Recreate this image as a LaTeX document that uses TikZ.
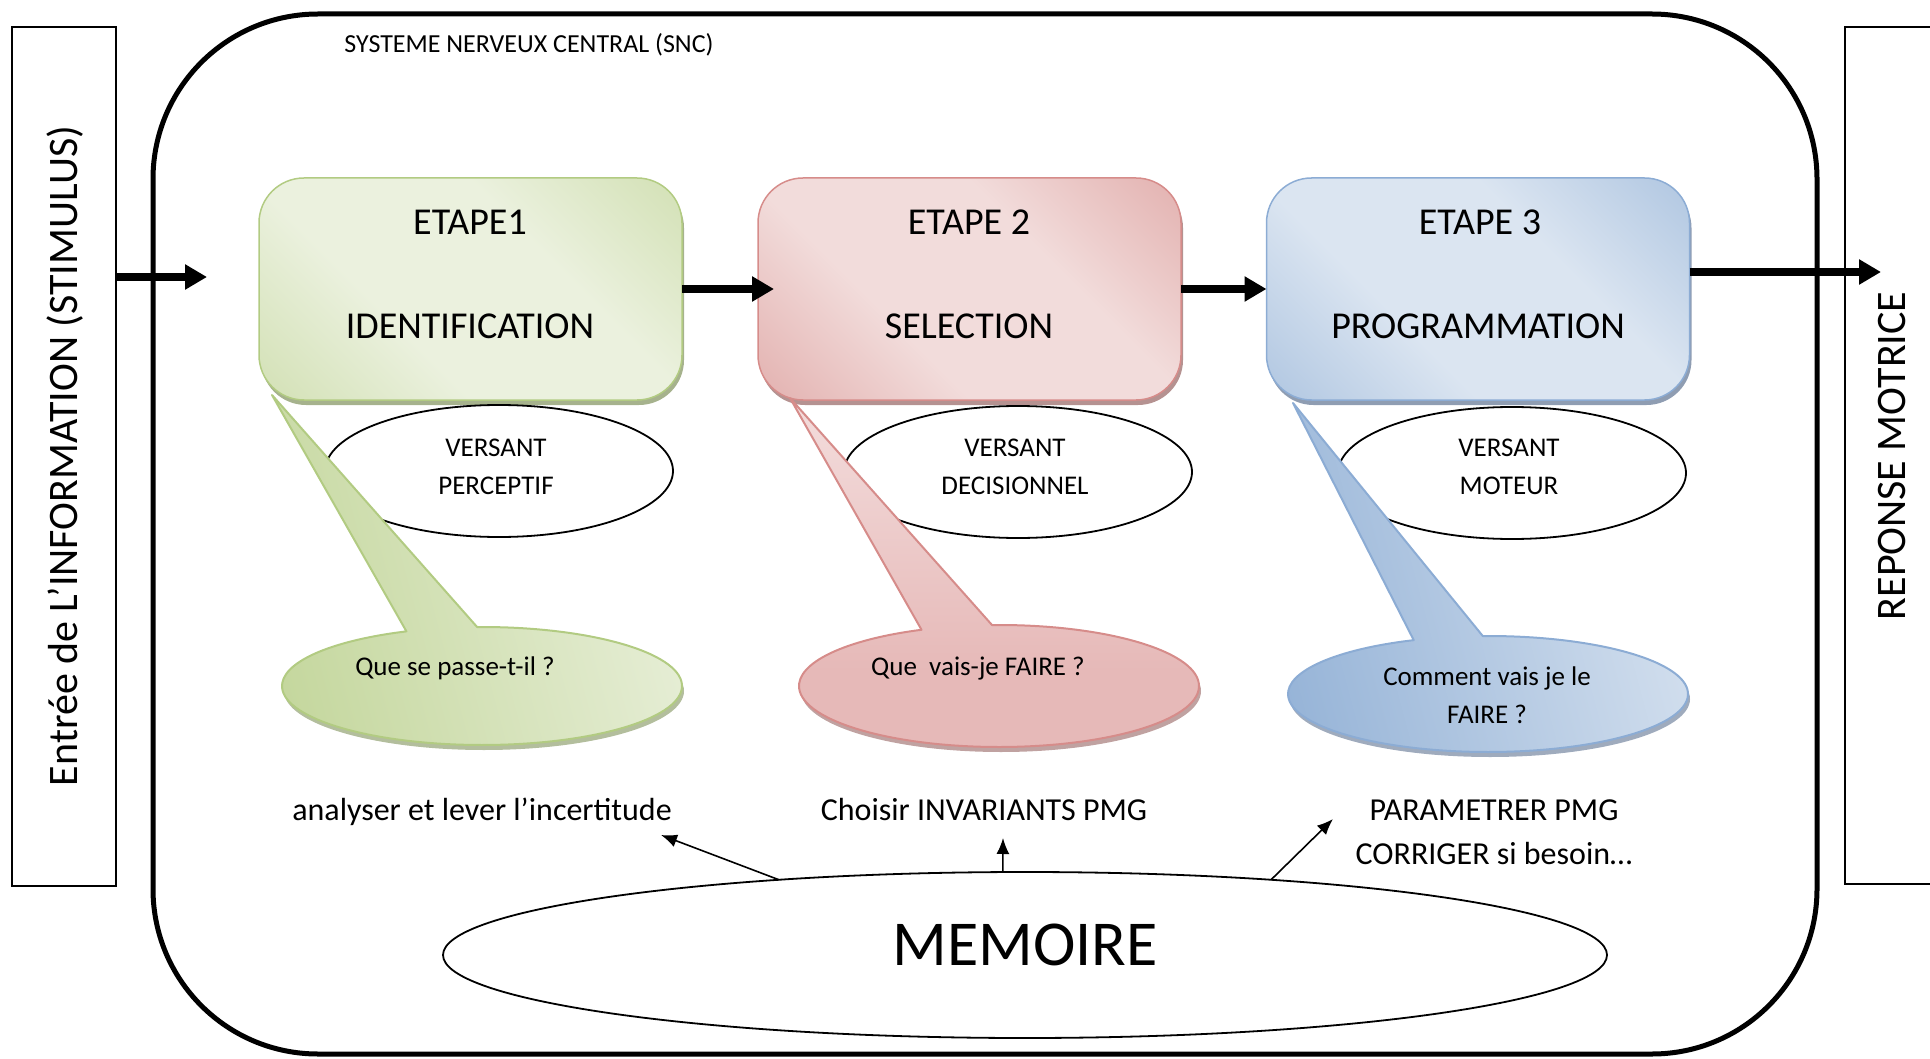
\documentclass[tikz,border=0pt]{standalone}
\usepackage{fontspec}
\setmainfont{Carlito}
\usetikzlibrary{arrows.meta,shapes.geometric,calc,shadows}

% stage colours (green / red / blue)
\definecolor{gdark}{RGB}{195,214,155}
\definecolor{glight}{RGB}{235,241,222}
\definecolor{gline}{RGB}{178,203,130}
\definecolor{gshadow}{RGB}{128,146,92}
\definecolor{rdark}{RGB}{217,150,148}
\definecolor{rlight}{RGB}{242,220,219}
\definecolor{rline}{RGB}{214,140,138}
\definecolor{rshadow}{RGB}{150,100,98}
\definecolor{rcall}{RGB}{230,185,184}
\definecolor{rtop}{RGB}{252,244,244}
\definecolor{bdark}{RGB}{149,179,215}
\definecolor{blight}{RGB}{219,229,241}
\definecolor{bline}{RGB}{140,172,212}
\definecolor{bshadow}{RGB}{95,115,145}

% diagonal band gradients of the stage boxes
\pgfdeclarehorizontalshading{greenband}{100bp}{color(0bp)=(gdark); color(38bp)=(glight); color(62bp)=(glight); color(100bp)=(gdark)}
\pgfdeclarehorizontalshading{redband}{100bp}{color(0bp)=(rdark); color(38bp)=(rlight); color(62bp)=(rlight); color(100bp)=(rdark)}
\pgfdeclarehorizontalshading{blueband}{100bp}{color(0bp)=(bdark); color(38bp)=(blight); color(62bp)=(blight); color(100bp)=(bdark)}
% callout gradients
\pgfdeclarehorizontalshading{greenfade}{100bp}{color(0bp)=(gdark); color(20bp)=(gdark); color(80bp)=(glight); color(100bp)=(glight)}
\pgfdeclarehorizontalshading{bluefade}{100bp}{color(0bp)=(bdark); color(20bp)=(bdark); color(80bp)=(blight); color(100bp)=(blight)}
\pgfdeclareverticalshading{redfade}{100bp}{color(0bp)=(rcall); color(36bp)=(rcall); color(100bp)=(rtop)}

\begin{document}
\begin{tikzpicture}[x=1pt,y=-1pt,
  every node/.style={inner sep=0pt, outer sep=0pt},
  flow/.style={line width=8pt, -{Triangle[length=22pt,width=24pt]}},
  thin arrow/.style={line width=1.6pt, -{Latex[length=16pt,width=13pt]}},
  stagebox/.style={rectangle, rounded corners=45pt, minimum width=423pt,
    minimum height=222pt, line width=1.5pt, shading angle=45},
  versant/.style={ellipse, draw, line width=1.8pt, fill=white,
    minimum width=348pt, minimum height=132pt},
  calloutshape/.style={line width=2pt, line join=round},
  stagetext/.style={font=\fontsize{38}{44}\selectfont, anchor=base},
  smalltext/.style={font=\fontsize{27}{32}\selectfont, anchor=base},
  notetext/.style={font=\fontsize{32}{38}\selectfont, anchor=base},
  sidetext/.style={font=\fontsize{42}{48}\selectfont, rotate=90, anchor=base},
]
\useasboundingbox (0,0) rectangle (1930,1059);

% central nervous system frame
\node[draw, line width=5pt, rounded corners=165pt, minimum width=1664pt,
  minimum height=1040pt] (snc) at (985,534) {};
\node[font=\fontsize{26}{30}\selectfont, anchor=base] (snctitle) at (529,53)
  {SYSTEME NERVEUX CENTRAL (SNC)};

% input and output panels
\node[draw, line width=1.5pt, minimum width=104pt, minimum height=859pt] (entree) at (64,456.5) {};
\node[sidetext] (entreetext) at (77,456) {Entrée de L’INFORMATION (STIMULUS)};
\node[draw, line width=1.5pt, minimum width=110pt, minimum height=857pt, anchor=west] (reponse) at (1845,455.5) {};
\node[sidetext] (reponsetext) at (1905,456) {REPONSE MOTRICE};

% the three stages
\node[stagebox, draw=gline, shading=greenband,
  drop shadow={shadow xshift=2pt, shadow yshift=-5pt, fill=gshadow, opacity=.7}] (e1) at (470.5,289) {};
\node[stagebox, draw=rline, shading=redband,
  drop shadow={shadow xshift=2pt, shadow yshift=-5pt, fill=rshadow, opacity=.7}] (e2) at (969.5,289) {};
\node[stagebox, draw=bline, shading=blueband,
  drop shadow={shadow xshift=2pt, shadow yshift=-5pt, fill=bshadow, opacity=.7}] (e3) at (1478,289) {};

\node[stagetext] (e1a) at (470,235) {ETAPE1};
\node[stagetext] (e1b) at (470,338) {IDENTIFICATION};
\node[stagetext] (e2a) at (969,235) {ETAPE 2};
\node[stagetext] (e2b) at (969,338) {SELECTION};
\node[stagetext] (e3a) at (1480,235) {ETAPE 3};
\node[stagetext] (e3b) at (1478,338) {PROGRAMMATION};

% versant ellipses
\node[versant] (v1) at (499,471) {};
\node[versant] (v2) at (1018,472) {};
\node[versant] (v3) at (1512,473) {};

% callouts: shadow under the bubble, then bubble with its tail
\fill[gshadow, opacity=.6] (484,691) ellipse [x radius=200, y radius=59];
\draw[calloutshape, draw=gline, shading=greenfade, shading angle=15]
  ($(482,686)+(268.6:200 and 59)$) arc[start angle=268.6, end angle=607.8, x radius=200, y radius=59]
  -- (272,395) -- cycle;

\fill[rshadow, opacity=.6] (1001,691) ellipse [x radius=200, y radius=61];
\draw[calloutshape, draw=rline, shading=redfade]
  ($(999,686)+(268:200 and 61)$) arc[start angle=268, end angle=607.2, x radius=200, y radius=61]
  -- (790,398) -- cycle;

\fill[bshadow, opacity=.6] (1490,699) ellipse [x radius=200, y radius=58];
\draw[calloutshape, draw=bline, shading=bluefade, shading angle=15]
  ($(1488,694)+(268.5:200 and 58)$) arc[start angle=268.5, end angle=608.2, x radius=200, y radius=58]
  -- (1293,403) -- cycle;

% texts of the versant ellipses
\node[smalltext] (v1a) at (496,456.5) {VERSANT};
\node[smalltext] (v1b) at (496,494.5) {PERCEPTIF};
\node[smalltext] (v2a) at (1015,456.5) {VERSANT};
\node[smalltext] (v2b) at (1015,494.5) {DECISIONNEL};
\node[smalltext] (v3a) at (1509,456.5) {VERSANT};
\node[smalltext] (v3b) at (1509,494.5) {MOTEUR};

% questions in the callouts
\node[smalltext] (q1) at (455,675) {Que se passe-t-il ?};
\node[smalltext] (q2) at (978,675) {Que\ \ vais-je FAIRE ?};
\node[smalltext] (q3a) at (1487,685) {Comment vais je le};
\node[smalltext] (q3b) at (1487,723) {FAIRE ?};

% actions
\node[notetext] (t1) at (482,820) {analyser et lever l’incertitude};
\node[notetext] (t2) at (984,820) {Choisir INVARIANTS PMG};
\node[notetext] (t3a) at (1494,820) {PARAMETRER PMG};
\node[notetext] (t3b) at (1494,864) {CORRIGER si besoin…};

% memory
\node[ellipse, draw, line width=1.8pt, fill=white, minimum width=1164pt,
  minimum height=166pt] (mem) at (1025,955) {};
\node[font=\fontsize{64}{70}\selectfont, anchor=base] (memtext) at (1025,965) {MEMOIRE};

% main information flow
\coordinate (inend) at (207,277);
\coordinate (outend) at (1881,272);
\draw[flow] (entree.east |- inend) -- (inend);
\draw[flow] (e1.east) -- ([xshift=16pt]e2.west);
\draw[flow] (e2.east) -- (e3.west);
\draw[flow] (e3.east |- outend) -- (outend);

% memory feeds every stage
\coordinate (m1) at (661,835);
\coordinate (m2) at (1003,838);
\coordinate (m3) at (1333,819);
\draw[thin arrow] (mem.163) -- (m1);
\draw[thin arrow] (mem.105) -- (m2);
\draw[thin arrow] (mem.17) -- (m3);
\end{tikzpicture}
\end{document}
